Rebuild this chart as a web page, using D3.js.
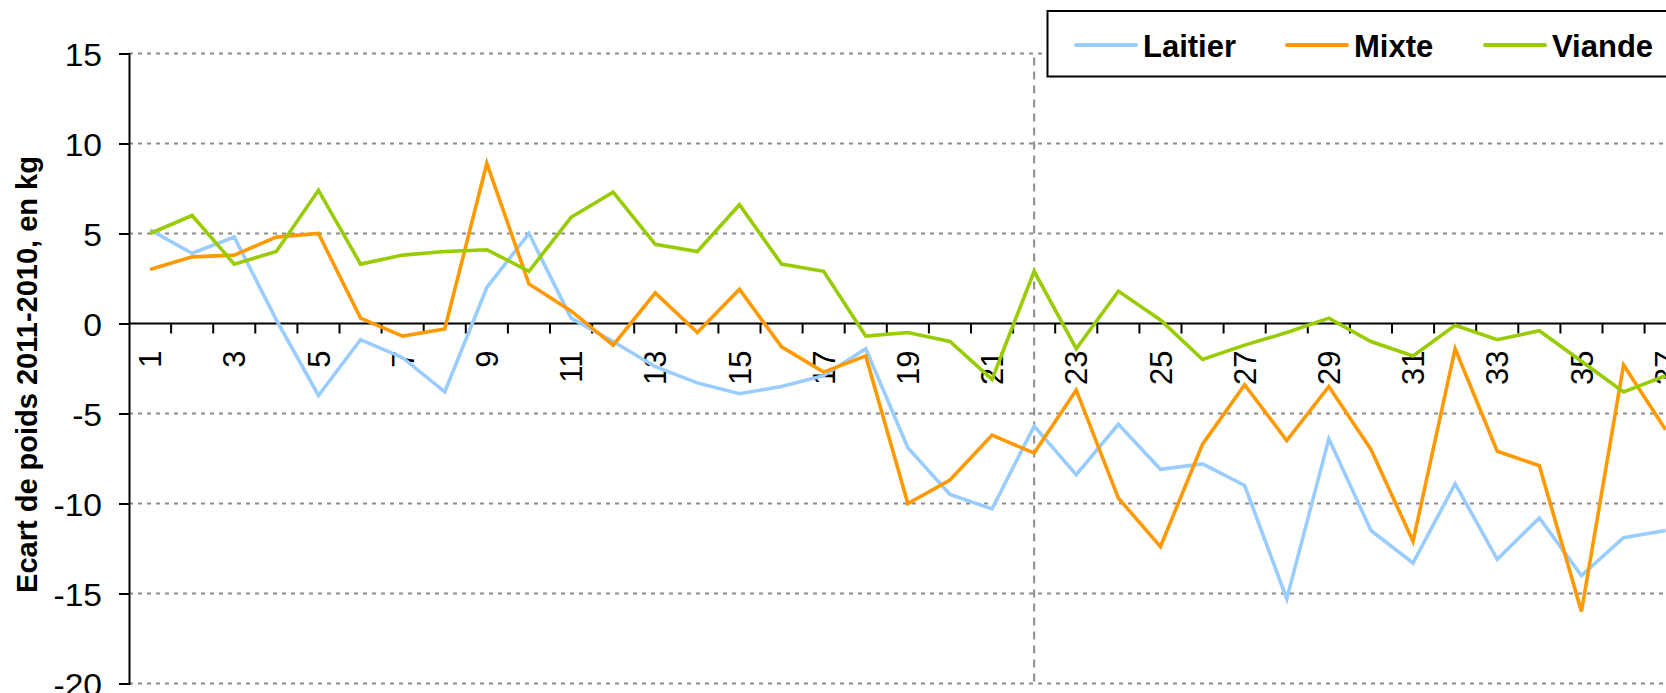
<!DOCTYPE html>
<html>
<head>
<meta charset="utf-8">
<script src="https://cdn.jsdelivr.net/npm/d3@7.9.0/dist/d3.min.js"></script>
<style>
  body { margin: 0; background: #fff; }
  svg { display: block; font-family: "Liberation Sans", Arial, sans-serif; }
</style>
</head>
<body>
<div id="chart"></div>
<script>
// values (kg, 2011 minus 2010), one per farm number
const categories = d3.range(1, 38);
const laitier = [5.2, 3.9, 4.8, 0.2, -4.0, -0.9, -1.9, -3.8, 2.0, 5.0, 0.3, -1.0, -2.4, -3.3, -3.9, -3.5, -2.9, -1.4, -6.9, -9.5, -10.3, -5.7, -8.4, -5.6, -8.1, -7.8, -9.0, -15.3, -6.4, -11.5, -13.3, -8.9, -13.1, -10.8, -14.0, -11.9, -11.5];
const mixte = [3.0, 3.7, 3.8, 4.8, 5.0, 0.3, -0.7, -0.3, 8.9, 2.2, 0.7, -1.2, 1.7, -0.5, 1.9, -1.3, -2.7, -1.8, -10.0, -8.7, -6.2, -7.2, -3.7, -9.7, -12.4, -6.7, -3.4, -6.5, -3.5, -7.0, -12.1, -1.4, -7.1, -7.9, -16.0, -2.3, -5.9];
const viande = [5.0, 6.0, 3.3, 4.0, 7.4, 3.3, 3.8, 4.0, 4.1, 2.9, 5.9, 7.3, 4.4, 4.0, 6.6, 3.3, 2.9, -0.7, -0.5, -1.0, -3.1, 2.9, -1.4, 1.8, 0.2, -2.0, -1.2, -0.5, 0.3, -1.0, -1.8, -0.1, -0.9, -0.4, -2.1, -3.8, -2.9];
const seriesNames = ['Laitier', 'Mixte', 'Viande'];
const seriesColors = ['#99ccff', '#ff9900', '#99cc00'];
const yTicks = [15, 10, 5, 0, -5, -10, -15, -20];
const markerCategory = 22; // vertical dashed line
const yTitle = 'Ecart de poids 2011-2010, en kg';

const width = 1666;
const height = 693;
const band = 42.1;
const left = 129;

const series = [laitier, mixte, viande].map((values, i) => ({
  name: seriesNames[i],
  color: seriesColors[i],
  values: values.map((v, j) => ({ cat: categories[j], v })),
}));

const xScale = d3.scaleBand()
  .domain(categories)
  .range([left, left + band * categories.length])
  .padding(0);

const yScale = d3.scaleLinear()
  .domain([-20, 15])
  .range([683.5, 53.5]);

const cx = (c) => xScale(c) + xScale.bandwidth() / 2;

const svg = d3.select('#chart')
  .append('svg')
  .attr('width', width)
  .attr('height', height);

// horizontal gridlines
svg.append('g')
  .selectAll('line')
  .data(yTicks.filter((d) => d !== 0))
  .join('line')
  .attr('x1', left)
  .attr('x2', width)
  .attr('y1', (d) => yScale(d))
  .attr('y2', (d) => yScale(d))
  .attr('stroke', '#8c8c8c')
  .attr('stroke-width', 2)
  .attr('stroke-dasharray', '4,5');

// vertical dashed marker
svg.append('line')
  .attr('x1', cx(markerCategory))
  .attr('x2', cx(markerCategory))
  .attr('y1', yScale(15) + 4)
  .attr('y2', yScale(-20))
  .attr('stroke', '#8c8c8c')
  .attr('stroke-width', 2)
  .attr('stroke-dasharray', '8,6');

// y axis
const yAxis = d3.axisLeft(yScale)
  .tickValues(yTicks)
  .tickSize(10)
  .tickPadding(27)
  .tickFormat((d) => String(d));

const gy = svg.append('g')
  .attr('transform', `translate(${left},0)`)
  .call(yAxis);
gy.select('.domain').attr('stroke', '#000').attr('stroke-width', 2);
gy.selectAll('.tick line').attr('stroke', '#000').attr('stroke-width', 2);
gy.selectAll('.tick text')
  .attr('fill', '#000')
  .style('font-size', '32px')
  .attr('x', 0)
  .attr('transform', 'translate(-27,0) scale(1.05,1)')
  .attr('dy', '0.36em');

// x axis on the zero line, labels for odd numbers only
const xAxis = d3.axisBottom(xScale)
  .tickSize(0)
  .tickSizeOuter(0)
  .tickFormat((d) => (d % 2 === 1 ? d : ''));

const gx = svg.append('g')
  .attr('transform', `translate(0,${yScale(0)})`)
  .call(xAxis);
gx.select('.domain').attr('stroke', '#000').attr('stroke-width', 2)
  .attr('d', `M${left},0H${width}`);
gx.selectAll('.tick text')
  .attr('fill', '#000')
  .style('font-size', '31px')
  .attr('transform', 'rotate(-90)')
  .attr('text-anchor', 'end')
  .attr('x', -27)
  .attr('y', 0)
  .attr('dy', '0.36em');

// tick marks between categories
gx.append('g')
  .selectAll('line')
  .data(categories.slice(1))
  .join('line')
  .attr('x1', (d) => xScale(d))
  .attr('x2', (d) => xScale(d))
  .attr('y1', 0)
  .attr('y2', 10)
  .attr('stroke', '#000')
  .attr('stroke-width', 2);

// y axis title
svg.append('text')
  .attr('transform', `translate(37,${(yScale(15) + yScale(-20)) / 2 + 6}) rotate(-90)`)
  .attr('text-anchor', 'middle')
  .style('font-size', '29px')
  .style('font-weight', 'bold')
  .text(yTitle);

// series lines
const line = d3.line()
  .x((d) => cx(d.cat))
  .y((d) => yScale(d.v));

svg.append('g')
  .selectAll('path')
  .data(series)
  .join('path')
  .attr('d', (d) => line(d.values))
  .attr('fill', 'none')
  .attr('stroke', (d) => d.color)
  .attr('stroke-width', 3.6)
  .attr('stroke-linejoin', 'miter');

// legend (runs off the right edge, as in the source)
const legend = svg.append('g');
legend.append('rect')
  .attr('x', 1047.5)
  .attr('y', 11)
  .attr('width', 700)
  .attr('height', 65.5)
  .attr('fill', '#fff')
  .attr('stroke', '#000')
  .attr('stroke-width', 2);

const legendX = [1076, 1287, 1485];
const items = legend.selectAll('g.item')
  .data(series)
  .join('g')
  .attr('class', 'item')
  .attr('transform', (d, i) => `translate(${legendX[i]},45)`);
items.append('line')
  .attr('x1', 0)
  .attr('x2', 60)
  .attr('stroke', (d) => d.color)
  .attr('stroke-width', 4)
  .attr('stroke-linecap', 'round');
items.append('text')
  .attr('x', 67)
  .attr('y', 11.5)
  .style('font-size', '31px')
  .style('font-weight', 'bold')
  .text((d) => d.name);
</script>
</body>
</html>
